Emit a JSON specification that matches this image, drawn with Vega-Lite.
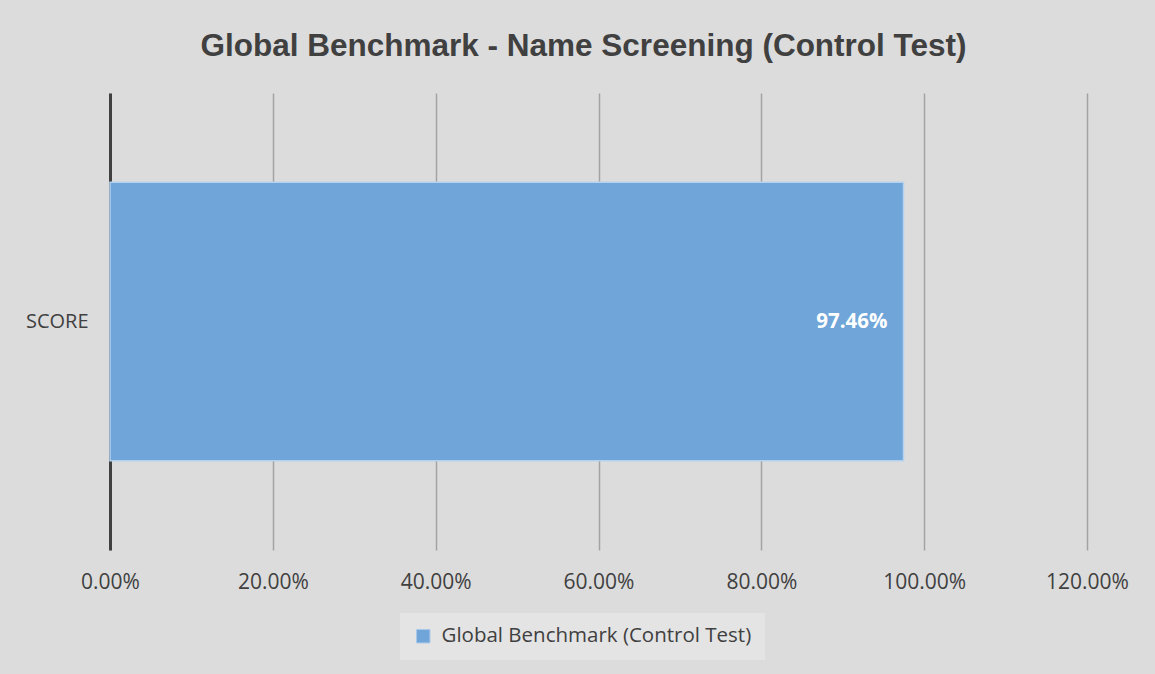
{
  "$schema": "https://vega.github.io/schema/vega-lite/v6.json",
  "width": 977,
  "height": 457,
  "autosize": "none",
  "padding": {"left": 110, "top": 93, "right": 68, "bottom": 124},
  "background": "#dcdcdc",
  "config": {
    "view": {"stroke": null},
    "font": "Open Sans"
  },
  "title": {
    "text": "Global Benchmark - Name Screening (Control Test)",
    "font": "Liberation Sans",
    "fontSize": 31.5,
    "fontWeight": "bold",
    "color": "#404040",
    "anchor": "middle",
    "dx": -15,
    "offset": 31
  },
  "data": {
    "values": [
      {"category": "SCORE", "value": 0.9746, "series": "Global Benchmark (Control Test)"}
    ]
  },
  "encoding": {
    "y": {
      "field": "category",
      "type": "nominal",
      "title": null,
      "scale": {"paddingInner": 0, "paddingOuter": 0.32},
      "axis": {
        "domainColor": "#404040",
        "domainWidth": 3,
        "ticks": false,
        "labelFontSize": 20,
        "labelColor": "#404040",
        "labelPadding": 22,
        "labelFont": "Open Sans"
      }
    },
    "x": {
      "field": "value",
      "type": "quantitative",
      "title": null,
      "scale": {"domain": [0, 1.2], "nice": false},
      "axis": {
        "values": [0, 0.2, 0.4, 0.6, 0.8, 1.0, 1.2],
        "format": ".2%",
        "domain": false,
        "ticks": false,
        "grid": true,
        "gridColor": "#a3a3a3",
        "gridWidth": 1.5,
        "labelFlush": false,
        "labelBound": false,
        "labelOverlap": false,
        "labelFontSize": 21,
        "labelColor": "#404040",
        "labelPadding": 21,
        "labelFont": "Open Sans"
      }
    }
  },
  "layer": [
    {
      "mark": {"type": "bar", "stroke": "#b5d1ee", "strokeWidth": 1.5},
      "encoding": {
        "color": {
          "field": "series",
          "type": "nominal",
          "scale": {"range": ["#6fa5d8"]},
          "legend": {
            "title": null,
            "orient": "none",
            "legendX": 290,
            "legendY": 520,
            "direction": "horizontal",
            "symbolType": "square",
            "symbolSize": 180,
            "symbolStrokeColor": "#a9c9ea",
            "symbolStrokeWidth": 1,
            "labelOffset": 8,
            "labelFontSize": 20.5,
            "labelColor": "#404040",
            "labelFont": "Open Sans",
            "labelLimit": 500,
            "fillColor": "#e4e4e4",
            "padding": 13
          }
        }
      }
    },
    {
      "mark": {
        "type": "text",
        "align": "right",
        "dx": -16,
        "color": "white",
        "fontWeight": "bold",
        "fontSize": 20.5,
        "font": "Open Sans"
      },
      "encoding": {
        "text": {"field": "value", "type": "quantitative", "format": ".2%"}
      }
    }
  ]
}
